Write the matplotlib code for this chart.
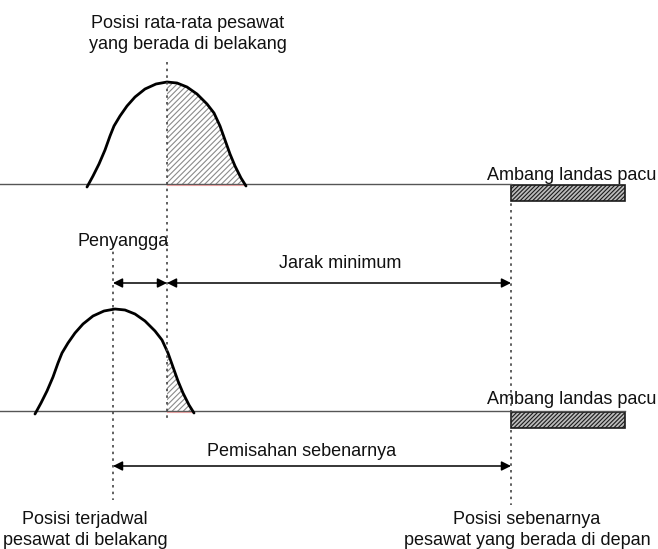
import matplotlib.pyplot as plt
from matplotlib.patches import Rectangle
import numpy as np

plt.rcParams['font.family'] = ['Liberation Sans', 'DejaVu Sans']
plt.rcParams['hatch.linewidth'] = 0.8

# distribution shape: offset from peak (px) and height above baseline (px)
profile_dx = [-80, -74, -68, -62, -57, -53, -47, -40, -32, -22, -11, 0,
              10, 20, 30, 40, 47, 53, 58, 63, 68, 74, 79]
profile_h = [-3, 8, 20, 34, 48, 58, 68, 78, 87, 95, 100, 102,
             101, 97, 90, 80, 71, 58, 44, 30, 18, 6, -2]

# two scenarios: top = average position, bottom = scheduled position
peak_x = [167, 115]
baseline_y = [184, 411]
hatch_from_x = 167          # tail beyond this point is shaded

runway_x = [511, 625]
runway_top = [185, 412]
runway_h = 16

guides_x = [113, 167, 511]
guides_y = [(245, 500), (62, 420), (190, 505)]

arrows = [(113, 167, 283), (167, 511, 283), (113, 511, 466)]

labels = [
    ("Posisi rata-rata pesawat\nyang berada di belakang", 188, 34, 'center'),
    ("Ambang landas pacu", 656, 175, 'right'),
    ("Ambang landas pacu", 656, 399, 'right'),
    ("Penyangga", 123, 241, 'center'),
    ("Jarak minimum", 340, 263, 'center'),
    ("Pemisahan sebenarnya", 302, 452, 'center'),
    ("Posisi terjadwal\npesawat di belakang", 85, 530, 'center'),
    ("Posisi sebenarnya\npesawat yang berada di depan", 527, 530, 'center'),
]

fig = plt.figure(figsize=(6.58, 5.49), dpi=100)
ax = fig.add_axes([0, 0, 1, 1])
ax.set_xlim(0, 658)
ax.set_ylim(549, 0)
ax.axis('off')

dx = np.array(profile_dx, dtype=float)
h = np.array(profile_h, dtype=float)

for px, by, rx, rt in zip(peak_x, baseline_y, runway_x, runway_top):
    # ground line up to the runway threshold
    ax.plot([0, rx], [by, by], color='#555555', lw=1.0)

    cx = px + dx
    cy = by - h

    # shaded tail behind the marker line
    y_cut = np.interp(hatch_from_x, cx, cy)
    m = cx > hatch_from_x
    tx = np.concatenate([[hatch_from_x], cx[m]])
    ty = np.concatenate([[y_cut], cy[m]])
    ax.fill_between(tx, ty, np.minimum(by, ty * 0 + by), facecolor='none',
                    edgecolor='#8a8a8a', hatch='//////', linewidth=0)
    ax.plot(tx, ty, color='#e3a0a0', lw=0.8)
    ax.plot([hatch_from_x, cx[m][-1]], [by + 1, by + 1], color='#e3a0a0', lw=0.8)

    ax.plot(cx, cy, color='black', lw=2.0, solid_capstyle='round')

    # runway threshold block
    ax.add_patch(Rectangle((runway_x[0], rt), runway_x[1] - runway_x[0], runway_h,
                           facecolor='#bbbbbb', edgecolor='#1a1a1a', hatch='////////',
                           lw=1.2))

for gx, (y0, y1) in zip(guides_x, guides_y):
    ax.plot([gx, gx], [y0, y1], color='#444444', lw=1.2, ls=(0, (1.5, 2.5)))

for x0, x1, y in arrows:
    ax.annotate('', xy=(x1, y), xytext=(x0, y),
                arrowprops=dict(arrowstyle='<|-|>', color='black', lw=1.1,
                                mutation_scale=14, shrinkA=0, shrinkB=0))

for txt, x, y, ha in labels:
    ax.text(x, y, txt, ha=ha, va='center', fontsize=13, linespacing=1.3,
            color='#111111')

fig.savefig('out.png', dpi=100)
